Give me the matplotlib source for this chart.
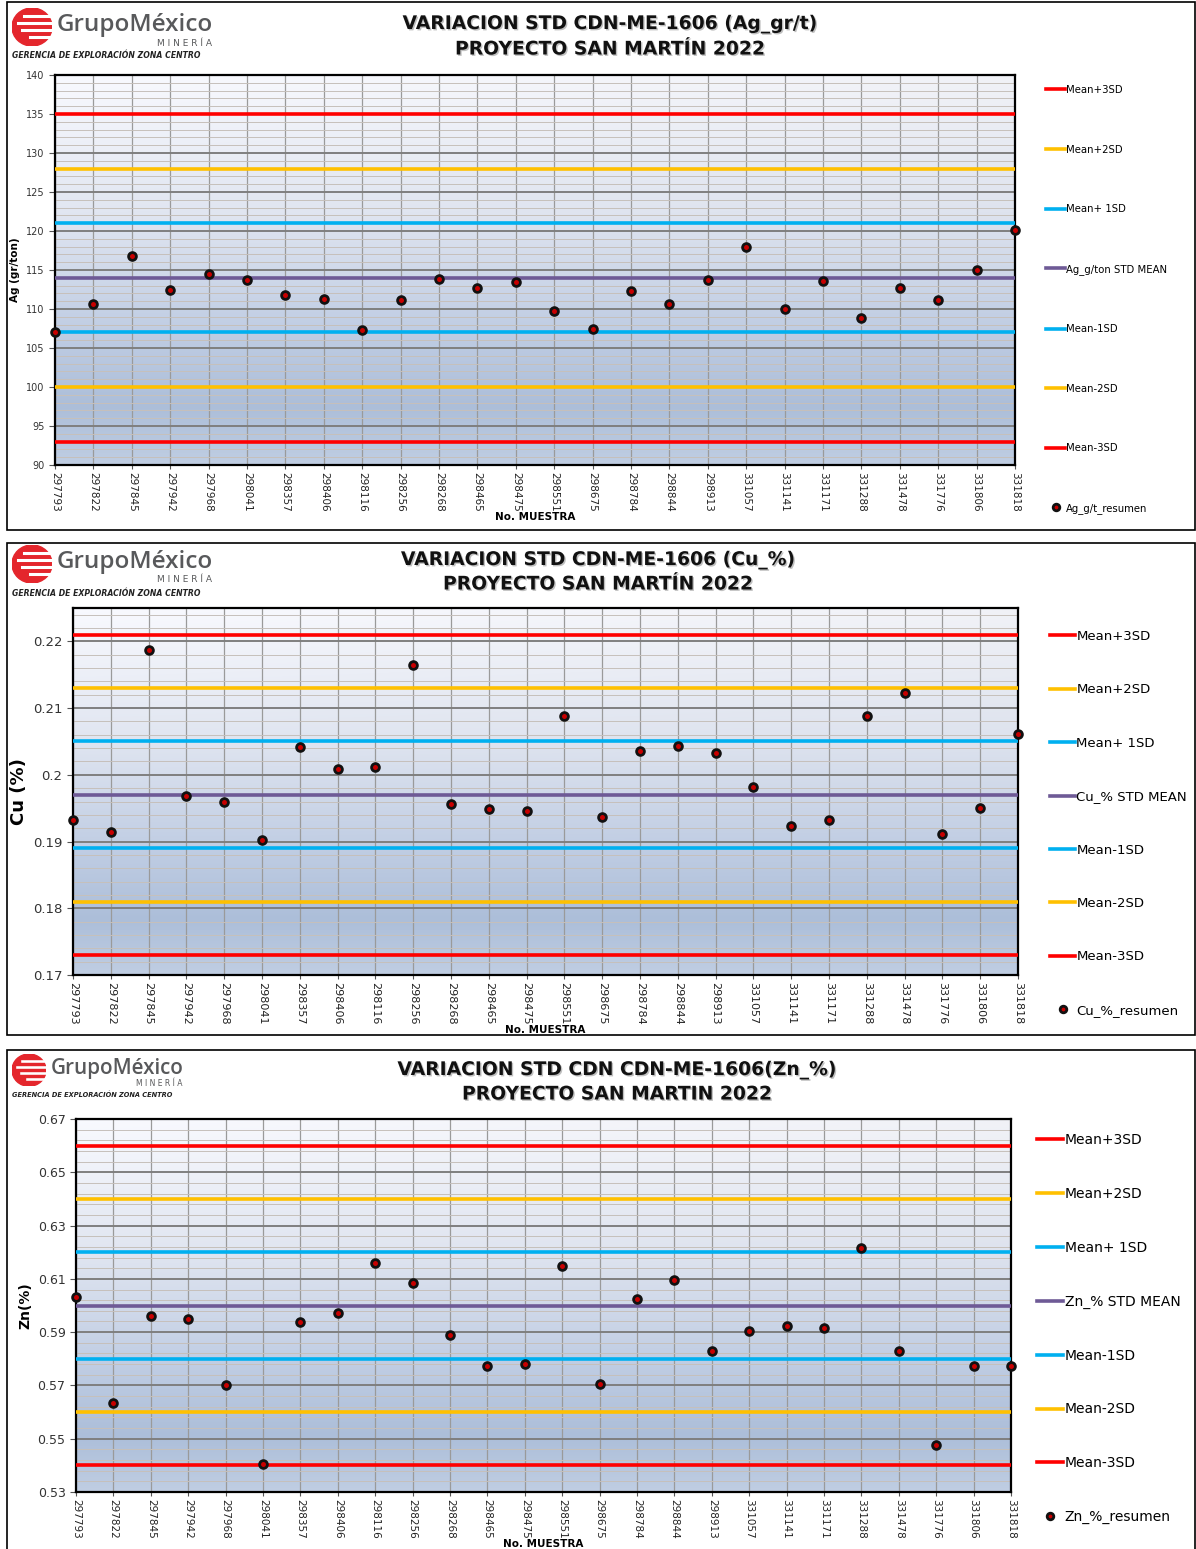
import matplotlib
matplotlib.use("Agg")
import matplotlib.pyplot as plt
import numpy as np
from matplotlib.patches import Rectangle, Ellipse
import matplotlib.patheffects as pe

W, H = 1196, 1549

# --- datos ---
muestras = ["297793", "297822", "297845", "297942", "297968", "298041", "298357",
            "298406", "298116", "298256", "298268", "298465", "298475", "298551",
            "298675", "298784", "298844", "298913", "331057", "331141", "331171",
            "331288", "331478", "331776", "331806", "331818"]

ag_vals = [107.1, 110.6, 116.8, 112.5, 114.5, 113.7, 111.8, 111.3, 107.3, 111.1,
           113.8, 112.7, 113.5, 109.8, 107.4, 112.3, 110.7, 113.7, 118.0, 110.0,
           113.6, 108.8, 112.7, 111.2, 115.0, 120.1]
cu_vals = [0.1932, 0.1915, 0.2187, 0.1969, 0.1959, 0.1902, 0.2042, 0.2009, 0.2012,
           0.2164, 0.1957, 0.1949, 0.1946, 0.2088, 0.1937, 0.2036, 0.2043, 0.2033,
           0.1981, 0.1924, 0.1933, 0.2088, 0.2122, 0.1912, 0.1951, 0.2061]
zn_vals = [0.6033, 0.5633, 0.5960, 0.5948, 0.5703, 0.5404, 0.5938, 0.5973, 0.6158,
           0.6084, 0.5888, 0.5773, 0.5779, 0.6148, 0.5706, 0.6024, 0.6094, 0.5828,
           0.5903, 0.5923, 0.5916, 0.6215, 0.5830, 0.5478, 0.5774, 0.5774]

ag_mean, ag_sd = 114.0, 7.0
cu_mean, cu_sd = 0.197, 0.008
zn_mean, zn_sd = 0.600, 0.020

lim_labels = ["Mean+3SD", "Mean+2SD", "Mean+ 1SD", None, "Mean-1SD", "Mean-2SD", "Mean-3SD"]
lim_k = [3, 2, 1, 0, -1, -2, -3]
lim_colors = ["#ff0000", "#ffc000", "#00b0f0", "#6e5a96", "#00b0f0", "#ffc000", "#ff0000"]

fig = plt.figure(figsize=(W / 100, H / 100), dpi=100)


def fx(px):
    return px / W


def fy(py):
    return 1 - py / H


# fondo degradado del area de grafico (estilo Excel)
def gradiente():
    t = np.linspace(0, 1, 300)
    s = np.linspace(0, 1, 300)[None, :]
    pos = [0.0, 0.35, 0.65, 0.85, 1.0]
    cols = np.array([[241, 242, 247], [222, 227, 238], [192, 205, 227],
                     [172, 190, 217], [192, 206, 227]]) / 255
    img = np.stack([np.interp(t, pos, cols[:, c]) for c in range(3)], axis=-1)[:, None, :]
    img = img + ((1 - s) * (1 - t[:, None]) ** 2 * 0.03)[..., None]
    img = img * np.ones((1, 300, 1))
    return np.clip(img, 0, 1)


GRAD = gradiente()


def logo(x0, y0, esc):
    # icono rojo
    ax = fig.add_axes([fx(x0), fy(y0 + 38 * esc), fx(40 * esc), 38 * esc / H])
    ax.set_xlim(0, 1)
    ax.set_ylim(0, 1)
    ax.axis("off")
    ax.add_patch(Ellipse((0.5, 0.5), 1.0, 1.0, color="#e4262c"))
    for yy, x1 in [(0.78, 0.3), (0.6, 0.15), (0.42, 0.25), (0.24, 0.45)]:
        ax.plot([x1, 1.0], [yy, yy], color="white", lw=2.2 * esc)
    fig.text(fx(x0 + 45 * esc), fy(y0 + 17 * esc), "GrupoMéxico", fontsize=17.5 * esc,
             color="#58595b", va="center", ha="left", family="Open Sans", fontweight="semibold")
    fig.text(fx(x0 + 200 * esc), fy(y0 + 35 * esc), "M I N E R Í A", fontsize=6.5 * esc,
             color="#58595b", va="center", ha="right")
    fig.text(fx(x0), fy(y0 + 48 * esc), "GERENCIA DE EXPLORACIÓN ZONA CENTRO",
             fontsize=5.6 * esc, fontweight="bold", style="italic", color="#222222",
             va="center", ha="left")


def panel(caja, area, vals, mean, sd, ylim, mayor, menor, ylabel, ylab_fs, ytick_fs,
          xtick_fs, nombre, resumen, leg_fs, leg_xy, leg_sp, titulos, tit_x, tit_y, tit_fs,
          logo_xy, logo_esc):
    fig.add_artist(Rectangle((fx(7), fy(caja[1])), fx(1188), (caja[1] - caja[0]) / H,
                             transform=fig.transFigure, fill=False, ec="black", lw=1.2))
    l, t, r, b = area
    ax = fig.add_axes([fx(l), fy(b), fx(r - l), (b - t) / H])
    n = len(muestras)
    x = np.arange(n)
    ax.imshow(GRAD, extent=[0, 1, 0, 1], transform=ax.transAxes, aspect="auto", zorder=0)
    ax.set_xlim(0, n - 1)
    ax.set_ylim(*ylim)

    yt = np.round(np.arange(ylim[0], ylim[1] + 1e-9, mayor), 4)
    ax.set_yticks(yt)
    ax.set_yticklabels(["{:g}".format(v) for v in yt], fontsize=ytick_fs, color="#333333")
    ax.set_yticks(np.arange(ylim[0], ylim[1] + 1e-9, menor), minor=True)
    ax.set_xticks(x)
    ax.set_xticklabels(muestras, rotation=270, fontsize=xtick_fs, color="#222222")
    ax.tick_params(axis="y", which="major", length=4, width=0.8, color="#555555")
    ax.tick_params(axis="y", which="minor", length=0)
    ax.tick_params(axis="x", length=3, width=0.8, color="#555555", pad=2)

    ax.grid(True, which="major", axis="y", color="#7f7f7f", lw=1.4, zorder=1)
    ax.grid(True, which="minor", axis="y", color="#c6c0bb", lw=0.7, zorder=1)
    ax.grid(True, which="major", axis="x", color="#9a9a9a", lw=0.9, zorder=1)
    ax.set_axisbelow(True)
    for sp in ax.spines.values():
        sp.set_color("black")
        sp.set_linewidth(1.6)

    handles = []
    for k, lab, col in zip(lim_k, lim_labels, lim_colors):
        if lab is None:
            lab = nombre + " STD MEAN"
        ln = ax.axhline(mean + k * sd, color=col, lw=2.6, zorder=3, label=lab)
        handles.append(ln)
    pts, = ax.plot(x, vals, "o", ms=5.6, mfc="#c80000", mec="#111111", mew=2.0,
                   clip_on=False, zorder=5, label=resumen)
    handles.append(pts)

    ax.set_ylabel(ylabel, fontsize=ylab_fs, fontweight="bold")
    ax.set_xlabel("No. MUESTRA", fontsize=7.5, fontweight="bold", labelpad=0)

    fig.legend(handles=handles, loc="upper left", bbox_to_anchor=(fx(leg_xy[0]), fy(leg_xy[1])),
               frameon=False, fontsize=leg_fs, handlelength=1.9, handletextpad=0.1,
               labelspacing=leg_sp, borderpad=0, borderaxespad=0, markerscale=0.85)

    for txt, yy in zip(titulos, tit_y):
        fig.text(fx(tit_x), fy(yy), txt, fontsize=tit_fs, fontweight="bold", ha="center",
                 va="center", color="#111111",
                 path_effects=[pe.withSimplePatchShadow(offset=(1, -1), alpha=0.25)])
    logo(logo_xy[0], logo_xy[1], logo_esc)
    return ax


panel((2, 530), (55, 75, 1015, 465), ag_vals, ag_mean, ag_sd, (90, 140), 5, 1,
      "Ag (gr/ton)", 7.5, 7, 7.5, "Ag_g/ton", "Ag_g/t_resumen", 7.3, (1046, 85), 4.89,
      ["VARIACION STD CDN-ME-1606 (Ag_gr/t)", "PROYECTO SAN MARTÍN 2022"], 610,
      (24, 49), 13.5, (12, 8), 1.0)

panel((543, 1035), (73, 608, 1018, 975), cu_vals, cu_mean, cu_sd, (0.17, 0.225), 0.01,
      0.002, "Cu (%)", 13, 9.5, 8, "Cu_%", "Cu_%_resumen", 9.5, (1050, 630), 3.06,
      ["VARIACION STD CDN-ME-1606 (Cu_%)", "PROYECTO SAN MARTÍN 2022"], 598,
      (560, 584), 13.5, (12, 545), 1.0)

panel((1050, 1560), (76, 1119, 1011, 1492), zn_vals, zn_mean, zn_sd, (0.53, 0.67), 0.02,
      0.004, "Zn(%)", 10, 9, 7.5, "Zn_%", "Zn_%_resumen", 10, (1037, 1133), 2.87,
      ["VARIACION STD CDN CDN-ME-1606(Zn_%)", "PROYECTO SAN MARTIN 2022"], 617,
      (1070, 1094), 13.5, (12, 1054), 0.85)

fig.savefig("out.png", dpi=100)
